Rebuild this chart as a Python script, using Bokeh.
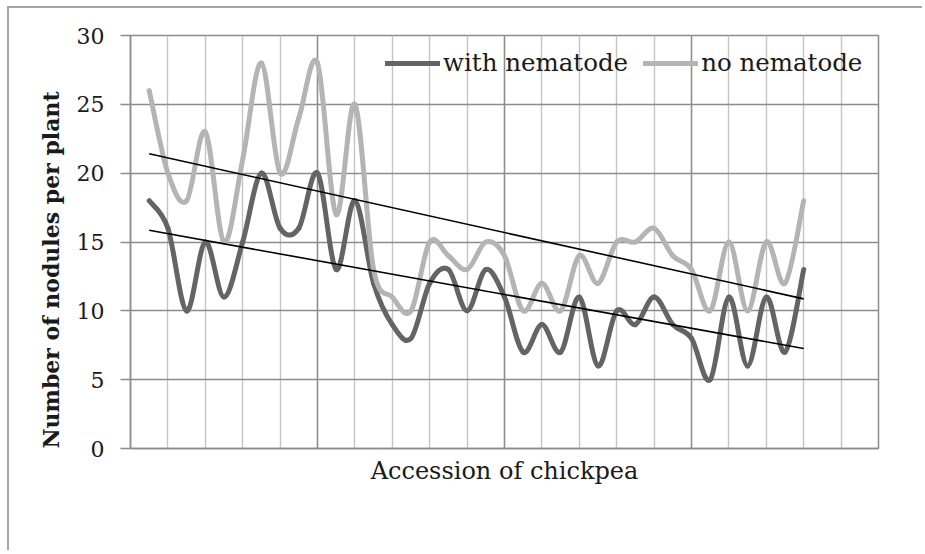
import numpy as np
from bokeh.plotting import figure
from bokeh.models import FixedTicker, Legend, LegendItem, Title
from bokeh.embed import file_html
from bokeh.resources import INLINE

# ---- data ----
accession = list(range(1, 37))
with_nematode = [18, 16, 10, 15, 11, 15, 20, 16, 16, 20, 13, 18, 12, 9, 8, 12, 13, 10,
                 13, 11, 7, 9, 7, 11, 6, 10, 9, 11, 9, 8, 5, 11, 6, 11, 7, 13]
no_nematode = [26, 20, 18, 23, 15, 21, 28, 20, 24, 28, 17, 25, 13, 11, 10, 15, 14, 13,
               15, 14, 10, 12, 10, 14, 12, 15, 15, 16, 14, 13, 10, 15, 10, 15, 12, 18]
series_labels = ["with nematode", "no nematode"]
y_ticks = [0, 5, 10, 15, 20, 25, 30]
x_major_grid = [0, 10, 20, 30, 40]
x_minor_grid = list(range(0, 41, 2))

DARK = "#646464"
LIGHT = "#b4b4b4"
GRID = "#8c8c8c"
MINOR = "#c4c4c4"
FONT = "DejaVu Serif"
TEXT = "#1a1a1a"

p = figure(width=915, height=544, x_range=(0, 40), y_range=(0, 30),
           output_backend="svg", toolbar_location=None,
           min_border_left=121, min_border_top=27, min_border_right=46, min_border_bottom=104,
           styles={"border-left": "2px solid #a6a6a6", "border-top": "2px solid #a6a6a6",
                   "margin-left": "7px", "margin-top": "6px"})
p.outline_line_color = GRID
p.outline_line_width = 1.5

# grids
p.xgrid.ticker = FixedTicker(ticks=x_major_grid, minor_ticks=x_minor_grid)
p.xgrid.grid_line_color = GRID
p.xgrid.grid_line_width = 1.4
p.xgrid.minor_grid_line_color = MINOR
p.xgrid.minor_grid_line_width = 1.4
p.ygrid.ticker = FixedTicker(ticks=y_ticks)
p.ygrid.grid_line_color = GRID
p.ygrid.grid_line_width = 1.4

# axes
p.xaxis.ticker = FixedTicker(ticks=[])
p.xaxis.axis_line_color = GRID
p.xaxis.axis_line_width = 1.5
p.xaxis.minor_tick_line_color = None
p.xaxis.major_tick_line_color = None
p.xaxis.axis_label = "Accession of chickpea"
p.xaxis.axis_label_text_font = FONT
p.xaxis.axis_label_text_font_style = "normal"
p.xaxis.axis_label_text_font_size = "24px"
p.xaxis.axis_label_text_color = TEXT
p.xaxis.axis_label_standoff = 8

p.yaxis.ticker = FixedTicker(ticks=y_ticks)
p.yaxis.axis_line_color = GRID
p.yaxis.axis_line_width = 1.5
p.yaxis.major_tick_line_color = GRID
p.yaxis.major_tick_line_width = 1.5
p.yaxis.major_tick_out = 10
p.yaxis.major_tick_in = 0
p.yaxis.minor_tick_line_color = None
p.yaxis.major_label_text_font = FONT
p.yaxis.major_label_text_font_size = "22px"
p.yaxis.major_label_text_color = TEXT
p.yaxis.major_label_standoff = 16

# y-axis title (starts near the bottom of the frame, as in the reference)
p.add_layout(Title(text="Number of nodules per plant", align="left", offset=0,
                   text_font=FONT, text_font_style="bold", text_font_size="22px",
                   text_color=TEXT, standoff=19), "left")


def smooth_segments(xs, ys):
    xs = np.asarray(xs, float)
    ys = np.asarray(ys, float)
    n = len(xs)
    seg = dict(x0=[], y0=[], x1=[], y1=[], cx0=[], cy0=[], cx1=[], cy1=[])
    for i in range(n - 1):
        i0 = max(i - 1, 0)
        i3 = min(i + 2, n - 1)
        seg["x0"].append(xs[i]); seg["y0"].append(ys[i])
        seg["x1"].append(xs[i + 1]); seg["y1"].append(ys[i + 1])
        seg["cx0"].append(xs[i] + (xs[i + 1] - xs[i0]) / 6)
        seg["cy0"].append(ys[i] + (ys[i + 1] - ys[i0]) / 6)
        seg["cx1"].append(xs[i + 1] - (xs[i3] - xs[i]) / 6)
        seg["cy1"].append(ys[i + 1] - (ys[i3] - ys[i]) / 6)
    return seg


items = []
for vals, col, lab in [(with_nematode, DARK, series_labels[0]),
                       (no_nematode, LIGHT, series_labels[1])]:
    s = smooth_segments(accession, vals)
    p.bezier(x0=s["x0"], y0=s["y0"], x1=s["x1"], y1=s["y1"],
             cx0=s["cx0"], cy0=s["cy0"], cx1=s["cx1"], cy1=s["cy1"],
             line_color=col, line_width=5, line_cap="round")
    leg = p.line(x=[np.nan], y=[np.nan], line_color=col, line_width=5, line_cap="round")
    items.append(LegendItem(label=lab, renderers=[leg]))

# linear trendlines on top
for vals in [with_nematode, no_nematode]:
    k, b = np.polyfit(accession, vals, 1)
    xe = [accession[0], accession[-1]]
    p.line(x=xe, y=[k * xe[0] + b, k * xe[1] + b], line_color="black", line_width=1.6)

legend = Legend(items=items, orientation="horizontal", location=(255, 371),
                background_fill_alpha=0, border_line_color=None,
                label_text_font=FONT, label_text_font_size="24.5px", label_text_color=TEXT,
                glyph_width=55, glyph_height=20, label_standoff=3, spacing=15,
                margin=0, padding=8)
p.add_layout(legend)

open("out.html", "w").write(file_html(p, INLINE))
